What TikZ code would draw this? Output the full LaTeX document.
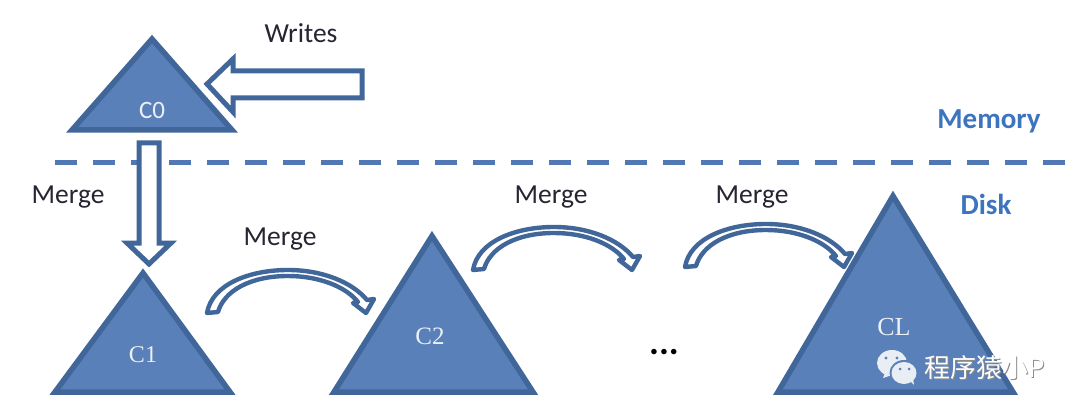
\documentclass[tikz,border=0pt]{standalone}
\usepackage{fontspec}
\setmainfont{Carlito}
\newfontfamily\serifc{Liberation Serif}
\newfontfamily\cjkf{Noto Sans CJK SC}
\definecolor{triFill}{HTML}{5A80B9}
\definecolor{triLine}{HTML}{41679A}
\definecolor{dashBlue}{HTML}{4F78B4}
\definecolor{labelBlue}{HTML}{3D74BE}
\definecolor{txt}{HTML}{262633}
\definecolor{bubble}{HTML}{E9EEF5}
\tikzset{
  x=1pt,y=-1pt,
  tree/.style={draw=triLine,fill=triFill,line width=5.5pt,line join=miter},
  block/.style={draw=triLine,fill=white,line width=5pt,line join=miter},
  curved/.style={draw=triLine,fill=white,line width=4.4pt,line join=round},
  lab/.style={font=\fontsize{27.5}{27.5}\selectfont,text=txt,inner sep=0pt},
  tier/.style={font=\bfseries\fontsize{29}{29}\selectfont,text=labelBlue,inner sep=0pt},
  treelab/.style={text=white!88!triFill,inner sep=0pt},
  mergearrow/.pic={
    \path[curved] (207,313) .. controls (212,284) and (250,270) .. (288,270)
      .. controls (322,270) and (352,282) .. (367,300)
      -- (374,299) -- (366,313) -- (353,303) -- (358,302)
      .. controls (345,286) and (318,276) .. (288,276)
      .. controls (250,276) and (224,291) .. (218,312) -- cycle;
  }
}
\begin{document}
\begin{tikzpicture}
\useasboundingbox (0,0) rectangle (1080,417);
\fill[white] (0,0) rectangle (1080,417);

% triangles
\path[tree] (152,39) -- (232,130) -- (72,130) -- cycle;
\path[tree] (143,273) -- (230,392) -- (55,392) -- cycle;
\path[tree] (432,236) -- (533,392) -- (334,392) -- cycle;
\path[tree] (893,196) -- (1013,392) -- (778,392) -- cycle;

% memory / disk divider
\draw[dashBlue,line width=5pt,dash pattern=on 22pt off 16pt] (55,163) -- (1072,163);

% block arrows
\path[block] (207,84) -- (233,59) -- (233,71) -- (362,71) -- (362,98) -- (233,98) -- (233,112) -- cycle;
\path[block] (139,143) -- (159,143) -- (159,243) -- (171,243) -- (149,264) -- (127,243) -- (139,243) -- cycle;

% curved arrows
\pic at (0,0) {mergearrow};
\pic at (266,-43) {mergearrow};
\pic at (478,-46) {mergearrow};

% labels
\node[lab] (writes) at (301,33) {Writes};
\node[lab] (m1) at (68,197) {Merge};
\node[lab] (m2) at (280,239) {Merge};
\node[lab] (m3) at (551,197) {Merge};
\node[lab] (m4) at (752,197) {Merge};
\node[tier] (memory) at (989,121) {Memory};
\node[tier] (disk) at (986,204) {Disk};
\node[inner sep=0pt,font=\bfseries\fontsize{37}{37}\selectfont,text=black] (dots) at (664,352) {...};

\node[treelab,font=\fontsize{25}{25}\selectfont] (c0) at (152,110) {C0};
\node[treelab,font=\serifc\fontsize{24}{24}\selectfont] (c1) at (143,355) {C1};
\node[treelab,font=\serifc\fontsize{25}{25}\selectfont] (c2) at (430,336) {C2};
\node[treelab,font=\serifc\fontsize{26}{26}\selectfont] (cl) at (894,327) {CL};

% watermark
\fill[bubble] (892,363) ellipse [x radius=15,y radius=13];
\fill[bubble] (885,373) -- (883,378) -- (892,375) -- cycle;
\fill[triFill] (904,373) ellipse [x radius=14.5,y radius=13];
\fill[bubble] (904,373) ellipse [x radius=12.5,y radius=11];
\fill[bubble] (910,381) -- (914,385) -- (913,378) -- cycle;
\fill[triFill] (886,358) circle (1.7) (897,358) circle (1.7) (900,369) circle (1.5) (909,369) circle (1.5);
\node[inner sep=0pt,anchor=west,font=\cjkf\fontsize{26}{26}\selectfont,text=black!45] (wmshadow) at (925,369) {程序猿小P};
\node[inner sep=0pt,anchor=west,font=\cjkf\fontsize{26}{26}\selectfont,text=white] (wm) at (924,368) {程序猿小P};
\end{tikzpicture}
\end{document}
